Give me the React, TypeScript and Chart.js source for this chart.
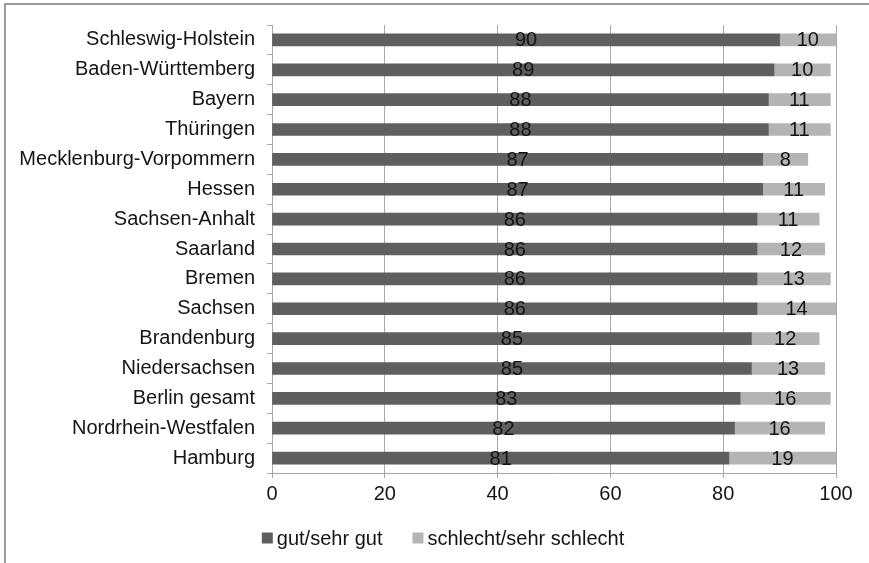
import React, { useEffect, useRef } from "react";
import { Chart, registerables } from "chart.js";

Chart.register(...registerables);

const categories = [
  "Schleswig-Holstein",
  "Baden-Württemberg",
  "Bayern",
  "Thüringen",
  "Mecklenburg-Vorpommern",
  "Hessen",
  "Sachsen-Anhalt",
  "Saarland",
  "Bremen",
  "Sachsen",
  "Brandenburg",
  "Niedersachsen",
  "Berlin gesamt",
  "Nordrhein-Westfalen",
  "Hamburg",
];
const gutValues = [90, 89, 88, 88, 87, 87, 86, 86, 86, 86, 85, 85, 83, 82, 81];
const schlechtValues = [10, 10, 11, 11, 8, 11, 11, 12, 13, 14, 12, 13, 16, 16, 19];
const seriesLabels = ["gut/sehr gut", "schlecht/sehr schlecht"];
const xTicks = [0, 20, 40, 60, 80, 100];

const FONT = "'Liberation Sans', Arial, sans-serif";
const FS = 20;
const TEXT = "#141414";
const GRID = "#a8a8a8";
const COLORS = ["#5f5f5f", "#b4b4b4"];

const framePlugin = {
  id: "frame",
  beforeDraw(chart: any) {
    const ctx = chart.ctx;
    ctx.save();
    ctx.fillStyle = "#ffffff";
    ctx.fillRect(0, 0, chart.width, chart.height);
    ctx.strokeStyle = "#9a9a9a";
    ctx.lineWidth = 2;
    ctx.beginPath();
    ctx.moveTo(5, chart.height + 2);
    ctx.lineTo(5, 4);
    ctx.lineTo(chart.width + 2, 4);
    ctx.stroke();
    ctx.restore();
  },
};

const valueLabelPlugin = {
  id: "valueLabels",
  afterDatasetsDraw(chart: any) {
    const ctx = chart.ctx;
    ctx.save();
    ctx.font = `${FS}px ${FONT}`;
    ctx.fillStyle = TEXT;
    ctx.textAlign = "center";
    ctx.textBaseline = "middle";
    chart.data.datasets.forEach((ds: any, di: number) => {
      const meta = chart.getDatasetMeta(di);
      meta.data.forEach((el: any, i: number) => {
        const p = el.getProps(["x", "y", "base"], true);
        const cx = (p.x + p.base) / 2;
        ctx.fillText(String(ds.data[i]), cx, p.y + 1);
      });
    });
    ctx.restore();
  },
};

const legendPlugin = {
  id: "customLegend",
  afterDraw(chart: any) {
    const ctx = chart.ctx;
    ctx.save();
    ctx.font = `${FS}px ${FONT}`;
    const box = 11;
    const gapText = 4;
    const gapItem = 30;
    const items = chart.data.datasets.map((d: any) => ({
      label: d.label,
      color: d.backgroundColor,
      w: ctx.measureText(d.label).width,
    }));
    let total = 0;
    items.forEach((it: any, i: number) => {
      total += box + gapText + it.w + (i < items.length - 1 ? gapItem : 0);
    });
    let x = 443 - total / 2;
    const y = 538;
    items.forEach((it: any) => {
      ctx.fillStyle = it.color;
      ctx.fillRect(x, y - box / 2, box, box);
      x += box + gapText;
      ctx.fillStyle = TEXT;
      ctx.textAlign = "left";
      ctx.textBaseline = "middle";
      ctx.fillText(it.label, x, y + 1);
      x += it.w + gapItem;
    });
    ctx.restore();
  },
};

export default function App() {
  const ref = useRef<HTMLCanvasElement | null>(null);
  useEffect(() => {
    if (!ref.current) return;
    const chart = new Chart(ref.current, {
      type: "bar",
      data: {
        labels: categories,
        datasets: [
          {
            label: seriesLabels[0],
            data: gutValues,
            backgroundColor: COLORS[0],
            barThickness: 12,
          },
          {
            label: seriesLabels[1],
            data: schlechtValues,
            backgroundColor: COLORS[1],
            barThickness: 12,
          },
        ],
      },
      options: {
        indexAxis: "y",
        animation: false,
        responsive: false,
        maintainAspectRatio: false,
        layout: { padding: { left: 0, right: 33, top: 25, bottom: 50 } },
        plugins: {
          legend: { display: false },
          tooltip: { enabled: false },
        },
        scales: {
          x: {
            stacked: true,
            min: 0,
            max: 100,
            afterBuildTicks: (scale: any) => {
              scale.ticks = xTicks.map((v) => ({ value: v }));
            },
            afterFit: (scale: any) => {
              scale.height = 40;
            },
            grid: {
              color: GRID,
              lineWidth: 1,
              drawTicks: true,
              tickLength: 5,
              tickColor: GRID,
            },
            border: { color: GRID, width: 1 },
            ticks: {
              font: { family: FONT, size: FS },
              color: TEXT,
              padding: 4,
              maxRotation: 0,
            },
          },
          y: {
            stacked: true,
            afterFit: (scale: any) => {
              scale.width = 272;
            },
            grid: {
              offset: true,
              drawOnChartArea: false,
              drawTicks: true,
              tickLength: 5,
              tickColor: GRID,
              color: GRID,
            },
            border: { color: GRID, width: 1 },
            ticks: {
              font: { family: FONT, size: FS },
              color: TEXT,
              padding: 12,
              autoSkip: false,
            },
          },
        },
      },
      plugins: [framePlugin, valueLabelPlugin, legendPlugin],
    });
    return () => chart.destroy();
  }, []);
  return (
    <div style={{ position: "fixed", left: 0, top: 0, width: 869, height: 563 }}>
      <canvas ref={ref} width={869} height={563} style={{ width: 869, height: 563 }} />
    </div>
  );
}
